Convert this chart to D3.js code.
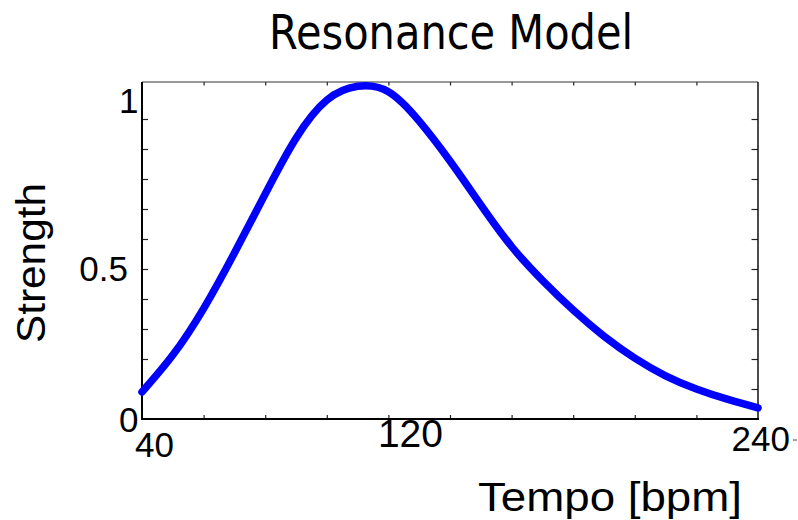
<!DOCTYPE html>
<html>
<head>
<meta charset="utf-8">
<script src="https://cdn.jsdelivr.net/npm/d3@7"></script>
<style>
  html, body { margin: 0; padding: 0; background: #fff; }
  svg { display: block; }
</style>
</head>
<body>
<svg id="chart" width="798" height="520"></svg>
<script>
// Resonance curve: strength of the tempo response across 40–240 bpm
const tempoBpm = [40, 50, 60, 70, 80, 90, 100, 110, 120, 130, 140, 150, 160, 170, 180, 190, 200, 210, 220, 230, 240];
const strength = [0.09, 0.213, 0.368, 0.553, 0.75, 0.936, 1.063, 1.109, 1.091, 0.993, 0.86, 0.714, 0.575, 0.462, 0.363, 0.276, 0.203, 0.144, 0.1, 0.066, 0.037];

const xMinorTicks = [60, 80, 100, 120, 140, 160, 180, 200, 220];
const xTickLabels = [40, 120, 240];
const yMinorTicks = [0.1, 0.2, 0.3, 0.4, 0.5, 0.6, 0.7, 0.8, 0.9, 1.0];
const yTickLabels = [0, 0.5, 1];

const titleText = "Resonance Model";
const xTitle = "Tempo [bpm]";
const yTitle = "Strength";

const svg = d3.select("#chart");
const plot = { left: 142, right: 758, top: 82, bottom: 419 };

const x = d3.scaleLinear().domain([40, 240]).range([plot.left, plot.right]);
const y = d3.scaleLinear().domain([0, (plot.bottom - plot.top) / 300]).range([plot.bottom, plot.top]);

const tickFont = "'Liberation Sans', Arial, sans-serif";

// Inward tick marks on all four sides of the box
const tickStyle = g => {
  g.select(".domain").remove();
  g.selectAll(".tick line").attr("stroke", "#222").attr("stroke-width", 1.2);
  g.selectAll(".tick text").remove();
};
svg.append("g").attr("transform", `translate(0,${plot.bottom})`)
  .call(d3.axisBottom(x).tickValues(xMinorTicks).tickSize(-4)).call(tickStyle);
svg.append("g").attr("transform", `translate(0,${plot.top})`)
  .call(d3.axisTop(x).tickValues(xMinorTicks).tickSize(-3.5)).call(tickStyle);
svg.append("g").attr("transform", `translate(${plot.left},0)`)
  .call(d3.axisLeft(y).tickValues(yMinorTicks).tickSize(-6)).call(tickStyle);
svg.append("g").attr("transform", `translate(${plot.right},0)`)
  .call(d3.axisRight(y).tickValues(yMinorTicks).tickSize(-6.5)).call(tickStyle);

// Frame
svg.append("line").attr("x1", plot.left).attr("x2", plot.right).attr("y1", plot.top).attr("y2", plot.top)
  .attr("stroke", "#333").attr("stroke-width", 1.2);
svg.append("line").attr("x1", plot.right).attr("x2", plot.right).attr("y1", plot.top).attr("y2", plot.bottom)
  .attr("stroke", "#111").attr("stroke-width", 1.5);
svg.append("line").attr("x1", plot.left).attr("x2", plot.right + 1).attr("y1", plot.bottom).attr("y2", plot.bottom)
  .attr("stroke", "#000").attr("stroke-width", 2);
svg.append("line").attr("x1", plot.left).attr("x2", plot.left).attr("y1", plot.top).attr("y2", plot.bottom + 1)
  .attr("stroke", "#000").attr("stroke-width", 2);

// Curve
const pts = tempoBpm.map((t, i) => [t, strength[i]]);
const line = d3.line().x(d => x(d[0])).y(d => y(d[1])).curve(d3.curveNatural);
svg.append("path").datum(pts)
  .attr("d", line)
  .attr("fill", "none")
  .attr("stroke", "#0000ff")
  .attr("stroke-width", 7.5)
  .attr("stroke-linecap", "round")
  .attr("stroke-linejoin", "round");

// Y tick labels (right-aligned left of the axis)
const yLabelShift = { 0: [-3.5, 13], 0.5: [-14, 11.5], 1: [-3.5, -6] };
svg.append("g").selectAll("text").data(yTickLabels).join("text")
  .attr("x", d => plot.left + yLabelShift[d][0])
  .attr("y", d => y(d) + yLabelShift[d][1])
  .attr("text-anchor", "end")
  .attr("font-family", tickFont)
  .attr("font-size", 35)
  .attr("fill", "#000")
  .text(d => d3.format("~g")(d));

// X tick labels
const xLabelShift = { 40: [-7, 37.5, 35], 120: [-10.5, 28, 39], 240: [-26.5, 31.5, 35] };
svg.append("g").selectAll("text").data(xTickLabels).join("text")
  .attr("x", d => x(d) + xLabelShift[d][0])
  .attr("y", d => plot.bottom + xLabelShift[d][1])
  .attr("text-anchor", "start")
  .attr("font-family", tickFont)
  .attr("font-size", d => xLabelShift[d][2])
  .attr("fill", "#000")
  .text(d => d);
svg.append("line").attr("x1", 793).attr("x2", 797).attr("y1", 440).attr("y2", 440)
  .attr("stroke", "#444").attr("stroke-width", 1);

// Title
svg.append("text")
  .attr("x", 269).attr("y", 49)
  .attr("font-family", "'DejaVu Sans', Verdana, sans-serif")
  .attr("font-size", 48)
  .attr("textLength", 364)
  .attr("lengthAdjust", "spacingAndGlyphs")
  .attr("fill", "#000")
  .text(titleText);

// Axis titles
svg.append("text")
  .attr("x", 478).attr("y", 511)
  .attr("font-family", tickFont)
  .attr("font-size", 41)
  .attr("textLength", 264)
  .attr("lengthAdjust", "spacingAndGlyphs")
  .attr("fill", "#000")
  .text(xTitle);

svg.append("text")
  .attr("transform", "translate(45,343) rotate(-90)")
  .attr("font-family", tickFont)
  .attr("font-size", 40)
  .attr("textLength", 160)
  .attr("lengthAdjust", "spacingAndGlyphs")
  .attr("fill", "#000")
  .text(yTitle);
</script>
</body>
</html>
